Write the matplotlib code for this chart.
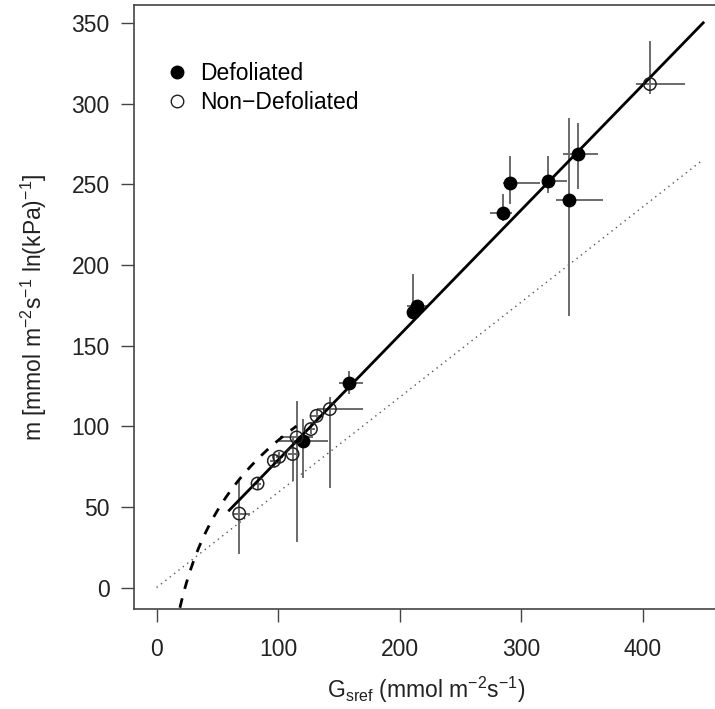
import numpy as np
import matplotlib
matplotlib.use("Agg")
import matplotlib.pyplot as plt

plt.rcParams['font.family'] = ['Liberation Sans', 'DejaVu Sans']

# Defoliated trees: Gsref, m, and error-bar extents
def_x = [120.7, 158.0, 211.3, 214.5, 285.3, 290.8, 321.8, 339.3, 346.5]
def_y = [91.0, 127.0, 170.6, 174.8, 232.0, 250.9, 252.3, 240.3, 269.2]
def_xlo = [101.0, 150.0, 211.3, 206.0, 274.3, 284.8, 316.9, 328.6, 334.6]
def_xhi = [141.0, 170.0, 211.3, 223.5, 292.2, 315.5, 337.4, 367.6, 363.4]
def_ylo = [68.2, 120.0, 168.0, 171.0, 227.5, 237.8, 245.0, 168.5, 247.0]
def_yhi = [104.6, 134.0, 194.4, 178.0, 244.0, 267.8, 267.8, 291.0, 288.0]

# Non-defoliated trees
non_x = [68.0, 83.1, 96.5, 100.9, 111.9, 115.2, 127.0, 131.7, 142.6, 406.0]
non_y = [45.9, 64.5, 78.6, 81.1, 82.8, 93.1, 98.3, 106.5, 110.7, 312.3]
non_xlo = [63.0, 80.0, 93.0, 98.0, 108.0, 101.5, 124.0, 127.0, 131.7, 395.0]
non_xhi = [76.8, 86.0, 100.0, 104.0, 116.0, 128.7, 130.0, 137.0, 170.0, 434.8]
non_ylo = [21.1, 61.0, 75.0, 78.0, 66.2, 28.0, 95.0, 103.0, 62.0, 306.0]
non_yhi = [66.0, 68.0, 82.0, 84.0, 93.0, 116.0, 102.0, 110.0, 118.0, 339.0]

# Fitted relationships
fit_slope, fit_intercept = 0.775, 1.6
fit_xrange = [59.8, 449.9]
ref_slope = 0.59
ref_xrange = [0.0, 450.0]
log_a, log_b = 62.9, -198.4
log_xrange = [19.2, 115.2]

FS = 16.5
W, H = 715, 709
fig = plt.figure(figsize=(W / 100, H / 100), dpi=100)
ax = fig.add_axes([134 / W, 1 - 609.3 / H, 583.9 / W, 604.6 / H])

ebar_col = '#6a6a6a'
for xs, ys, xlo, xhi, ylo, yhi in [
        (def_x, def_y, def_xlo, def_xhi, def_ylo, def_yhi),
        (non_x, non_y, non_xlo, non_xhi, non_ylo, non_yhi)]:
    for i in range(len(xs)):
        ax.plot([xlo[i], xhi[i]], [ys[i], ys[i]], color=ebar_col, lw=1.4,
                solid_capstyle='butt', zorder=2)
        ax.plot([xs[i], xs[i]], [ylo[i], yhi[i]], color=ebar_col, lw=1.4,
                solid_capstyle='butt', zorder=2)

xr = np.array(fit_xrange)
ax.plot(xr, fit_slope * xr + fit_intercept, color='black', lw=2.0, zorder=3)
rr = np.array(ref_xrange)
ax.plot(rr, ref_slope * rr, color='#555555', lw=1.0, ls=(0, (1, 3)), zorder=1)
lx = np.linspace(log_xrange[0], log_xrange[1], 200)
ax.plot(lx, log_a * np.log(lx) + log_b, color='black', lw=2.0,
        ls=(0, (3.5, 3.5)), zorder=3)

ax.scatter(def_x, def_y, s=80, color='black', zorder=4)
ax.scatter(non_x, non_y, s=80, facecolors='none', edgecolors='#222222',
           linewidths=1.1, zorder=4)

ax.set_xlim(-18.6, 462)
ax.set_ylim(-13.5, 361.5)
ax.set_xticks([0, 100, 200, 300, 400])
ax.set_yticks([0, 50, 100, 150, 200, 250, 300, 350])
ax.tick_params(axis='both', direction='out', length=9.5, width=1.0,
               color='#444444', labelsize=FS, labelcolor='#222222')
ax.tick_params(axis='x', pad=11)
ax.tick_params(axis='y', pad=8)
for sp in ax.spines.values():
    sp.set_color('#444444')
    sp.set_linewidth(1.2)

ax.set_xlabel(r'G$_{\mathregular{sref}}$ (mmol m$^{\mathregular{-2}}$s$^{\mathregular{-1}}$)',
              fontsize=FS, color='#222222', va='center')
ax.set_ylabel(r'm [mmol m$^{\mathregular{-2}}$s$^{\mathregular{-1}}$ ln(kPa)$^{\mathregular{-1}}$]',
              fontsize=FS, color='#222222', va='center')
ax.xaxis.set_label_coords(0.5, -(690 - 609.3) / 604.6)
ax.yaxis.set_label_coords(-(134 - 34) / 583.9, 0.5)

leg_h = [
    plt.Line2D([], [], marker='o', ls='none', color='black', markersize=9),
    plt.Line2D([], [], marker='o', ls='none', markerfacecolor='none',
               markeredgecolor='#222222', markersize=9),
]
ax.legend(leg_h, ['Defoliated', 'Non\u2212Defoliated'], loc='upper left',
          bbox_to_anchor=((166 - 134) / 583.9, (609.3 - 62) / 604.6),
          frameon=False, fontsize=FS, handlelength=1.0, handletextpad=0.5,
          labelspacing=0.25, borderaxespad=0, borderpad=0)

fig.savefig('out.png', dpi=100)
